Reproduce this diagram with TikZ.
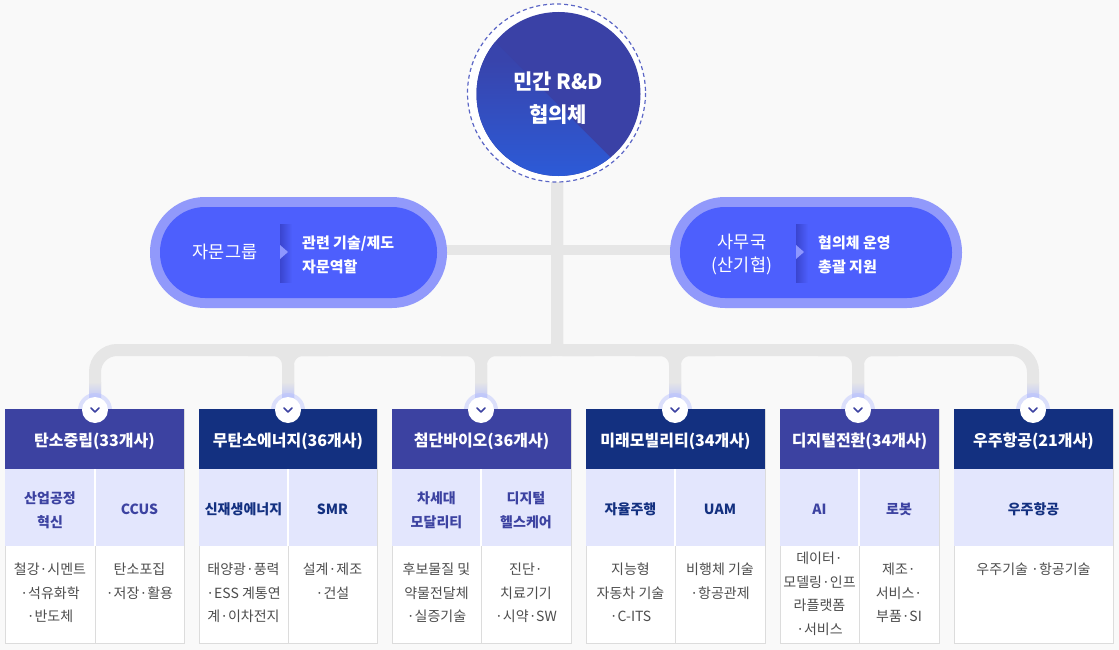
\documentclass[tikz,border=0pt]{standalone}
\usepackage{fontspec}
\setmainfont{Noto Sans CJK KR}
\usetikzlibrary{calc}
\definecolor{bg}{HTML}{F9F9F9}
\definecolor{barc}{HTML}{E6E6E6}
\definecolor{indigo}{HTML}{3C42A1}
\definecolor{navy}{HTML}{133080}
\definecolor{lav}{HTML}{E3E6FD}
\definecolor{pillin}{HTML}{4D5FFD}
\definecolor{pillout}{HTML}{9199FB}
\definecolor{pilltri}{HTML}{8E97FF}
\definecolor{pillsh}{HTML}{3A45CF}
\definecolor{txtgray}{HTML}{4D4D4D}
\definecolor{bordc}{HTML}{DCDCDC}
\definecolor{cdark}{HTML}{3A41A6}
\definecolor{ctop}{HTML}{3844AC}
\definecolor{cbot}{HTML}{2C5BD8}
\definecolor{ring}{HTML}{5B66C6}
\definecolor{glow}{HTML}{B7C0FF}
\begin{document}
\begin{tikzpicture}[x=1pt,y=-1pt,
  barline/.style={draw=barc,line width=12pt},
  htxt/.style={text=white,font=\fontsize{16}{20}\selectfont\bfseries,inner sep=0},
  stA/.style={text=indigo,font=\fontsize{14}{24}\selectfont\bfseries,align=center,inner sep=0},
  stB/.style={text=navy,font=\fontsize{14}{24}\selectfont\bfseries,align=center,inner sep=0},
  ct/.style={text=txtgray,font=\fontsize{14}{23.5}\selectfont,align=center,inner sep=0,anchor=north},
  chev/.style={circle,fill=white,minimum size=26pt,inner sep=0},
  chevmark/.style={draw=indigo,line width=1.6pt,line cap=round,line join=round},
  pilltxt/.style={text=white,font=\fontsize{15}{24}\selectfont\bfseries,align=left,inner sep=0,anchor=west},
  pillhead/.style={text=white,font=\fontsize{17.5}{23}\selectfont,align=center,inner sep=0},
  frame/.style={draw=bordc,fill=white,line width=0.8pt}
]
\fill[bg] (0,0) rectangle (1119,650);
\useasboundingbox (0,0) rectangle (1119,650);

% ---------- connectors ----------
\draw[draw=barc,line width=10pt] (440,250) -- (675,250);
\draw[barline,rounded corners=22pt] (557,350) -- (95,350) -- (95,412);
\draw[barline,rounded corners=22pt] (557,350) -- (1033,350) -- (1033,412);
\foreach \bx in {288,481,675,858}{
  \draw[barline,rounded corners=15pt] (\bx-40,350) -- (\bx,350) -- (\bx,412);
  \draw[barline,rounded corners=15pt] (\bx+40,350) -- (\bx,350) -- (\bx,412);
}
\draw[barline,rounded corners=6pt] (557,150) -- (557,350) -- (520,350);
\draw[barline,rounded corners=6pt] (557,150) -- (557,350) -- (594,350);
\foreach \bx in {95,288,481,675,858,1033}{
  \shade[top color=barc,bottom color=glow] (\bx-6,382) rectangle (\bx+6,402);
  \fill[glow,opacity=0.45] (\bx,410) circle (17);
}

% ---------- central circle ----------
\fill[white] (556.5,93) circle (89);
\draw[draw=ring,line width=1.2pt,dash pattern=on 4pt off 3pt] (556.5,93) circle (89);
\begin{scope}
  \clip (558.5,94) circle (82);
  \fill[cdark] (470,5) rectangle (650,180);
  \begin{scope}
    \clip (440,-13) -- (700,247) -- (440,247) -- cycle;
    \fill[ctop] (440,-13) rectangle (700,60);
    \shade[top color=ctop,bottom color=cbot] (440,60) rectangle (700,178);
  \end{scope}
\end{scope}
\node[text=white,font=\fontsize{21}{33}\selectfont\bfseries,align=center,inner sep=0] (core) at (558,98) {민간 R\&D\\협의체};

% ---------- pills ----------
\fill[pillout,rounded corners=55pt] (150,197) rectangle (447,308);
\fill[pillin,rounded corners=45pt] (160,207) rectangle (437,298);
\shade[left color=pillsh,right color=pillin] (280,224) rectangle (292,282);
\fill[pilltri] (280,245) -- (288,252) -- (280,259) -- cycle;
\node[pillhead] (adv) at (225,252) {자문그룹};
\node[pilltxt] (advd) at (302,255) {관련 기술/제도\\자문역할};

\fill[pillout,rounded corners=55pt] (670,197) rectangle (962,308);
\fill[pillin,rounded corners=45pt] (680,207) rectangle (952,298);
\shade[left color=pillsh,right color=pillin] (796,224) rectangle (808,282);
\fill[pilltri] (796,245) -- (804,252) -- (796,259) -- cycle;
\node[pillhead] (sec) at (742,254) {사무국\\(산기협)};
\node[pilltxt] (secd) at (818,255) {협의체 운영\\총괄 지원};

% ---------- columns ----------
% col 1
\draw[frame] (5,409) rectangle (184,643);
\fill[indigo] (5,409) rectangle (184,469);
\fill[lav] (5,469) rectangle (184,546);
\draw[white,line width=1.2pt] (95,469) -- (95,546);
\draw[bordc,line width=0.8pt] (95,546) -- (95,643);
% col 2
\draw[frame] (199,409) rectangle (377,643);
\fill[navy] (199,409) rectangle (377,469);
\fill[lav] (199,469) rectangle (377,546);
\draw[white,line width=1.2pt] (288,469) -- (288,546);
\draw[bordc,line width=0.8pt] (288,546) -- (288,643);
% col 3
\draw[frame] (392,409) rectangle (571,643);
\fill[indigo] (392,409) rectangle (571,469);
\fill[lav] (392,469) rectangle (571,546);
\draw[white,line width=1.2pt] (481,469) -- (481,546);
\draw[bordc,line width=0.8pt] (481,546) -- (481,643);
% col 4
\draw[frame] (586,409) rectangle (765,643);
\fill[navy] (586,409) rectangle (765,469);
\fill[lav] (586,469) rectangle (765,546);
\draw[white,line width=1.2pt] (675,469) -- (675,546);
\draw[bordc,line width=0.8pt] (675,546) -- (675,643);
% col 5
\draw[frame] (780,409) rectangle (939,643);
\fill[indigo] (780,409) rectangle (939,469);
\fill[lav] (780,469) rectangle (939,546);
\draw[white,line width=1.2pt] (859,469) -- (859,546);
\draw[bordc,line width=0.8pt] (859,546) -- (859,643);
% col 6
\draw[frame] (954,409) rectangle (1113,643);
\fill[navy] (954,409) rectangle (1113,469);
\fill[lav] (954,469) rectangle (1113,546);

% headers
\node[htxt] (h1) at (94.5,441) {탄소중립(33개사)};
\node[htxt] (h2) at (288,441) {무탄소에너지(36개사)};
\node[htxt] (h3) at (481.5,441) {첨단바이오(36개사)};
\node[htxt] (h4) at (675.5,441) {미래모빌리티(34개사)};
\node[htxt] (h5) at (859.5,441) {디지털전환(34개사)};
\node[htxt] (h6) at (1033.5,441) {우주항공(21개사)};

% sub rows
\node[stA] (s1a) at (50,510) {산업공정\\혁신};
\node[stA] (s1b) at (139.5,509) {CCUS};
\node[stB] (s2a) at (243.5,509) {신재생에너지};
\node[stB] (s2b) at (332.5,509) {SMR};
\node[stA] (s3a) at (436.5,510) {차세대\\모달리티};
\node[stA] (s3b) at (526,510) {디지털\\헬스케어};
\node[stB] (s4a) at (630.5,509) {자율주행};
\node[stB] (s4b) at (720,509) {UAM};
\node[stA] (s5a) at (819.5,509) {AI};
\node[stA] (s5b) at (899,509) {로봇};
\node[stB] (s6a) at (1033.5,509) {우주항공};

% content
\node[ct] (c1a) at (50,563) {철강·시멘트\\·석유화학\\·반도체};
\node[ct] (c1b) at (139.5,563) {탄소포집\\·저장·활용};
\node[ct] (c2a) at (243.5,563) {태양광·풍력\\·ESS 계통연\\계·이차전지};
\node[ct] (c2b) at (332.5,563) {설계·제조\\·건설};
\node[ct] (c3a) at (436.5,563) {후보물질 및\\약물전달체\\·실증기술};
\node[ct] (c3b) at (526,563) {진단·\\치료기기\\·시약·SW};
\node[ct] (c4a) at (630.5,563) {지능형\\자동차 기술\\·C-ITS};
\node[ct] (c4b) at (720,563) {비행체 기술\\·항공관제};
\node[ct] (c5a) at (819.5,552) {데이터·\\모델링·인프\\라플랫폼\\·서비스};
\node[ct] (c5b) at (899,563) {제조·\\서비스·\\부품·SI};
\node[ct] (c6a) at (1033.5,563) {우주기술 ·항공기술};

% chevron circles
\foreach \i/\bx in {1/95,2/288,3/481,4/675,5/858,6/1033}{
  \node[chev] (v\i) at (\bx,410) {};
  \draw[chevmark] ($(v\i.center)+(-4,-2)$) -- ++(4,4) -- ++(4,-4);
}
\end{tikzpicture}
\end{document}
